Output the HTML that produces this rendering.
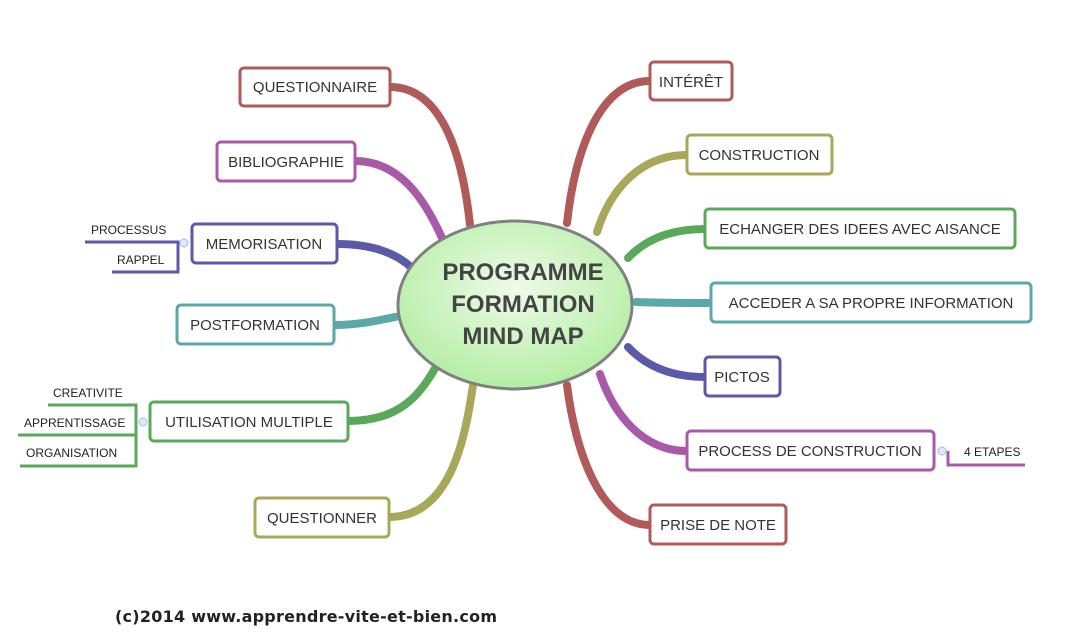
<!DOCTYPE html><html><head><meta charset="utf-8"><style>body{margin:0;background:#fff}svg{display:block}text{font-family:"Liberation Sans",sans-serif}</style></head><body>
<svg width="1072" height="644" viewBox="0 0 1072 644">
<defs><radialGradient id="g" cx="50%" cy="40%" r="60%"><stop offset="0" stop-color="#eefbe8"/><stop offset="1" stop-color="#b4eea4"/></radialGradient></defs>
<g fill="none" stroke-linecap="round">
<path d="M390,87 C440,87 462,150 470,225" stroke="#b05a5a" stroke-width="8"/>
<path d="M355,161 C400,161 425,200 442,238" stroke="#a85aa8" stroke-width="8"/>
<path d="M337,244 C370,244 395,252 412,268" stroke="#5a5aa8" stroke-width="8"/>
<path d="M334,325 C360,325 380,320 400,316" stroke="#5aa8a8" stroke-width="8"/>
<path d="M348,421 C400,421 420,395 437,365" stroke="#5aa85a" stroke-width="8"/>
<path d="M389,517 C450,517 465,440 473,385" stroke="#a8a85a" stroke-width="8"/>
<path d="M650,81 C600,81 575,150 567,223" stroke="#b05a5a" stroke-width="8"/>
<path d="M687,155 C640,155 610,190 597,232" stroke="#a8a85a" stroke-width="8"/>
<path d="M705,229 C670,229 645,240 628,258" stroke="#5aa85a" stroke-width="8"/>
<path d="M711,303 C690,303 660,303 636,302" stroke="#5aa8a8" stroke-width="8"/>
<path d="M705,377 C670,377 645,365 628,347" stroke="#5a5aa8" stroke-width="8"/>
<path d="M687,451 C640,451 612,410 600,374" stroke="#a85aa8" stroke-width="8"/>
<path d="M650,525 C600,525 575,450 567,385" stroke="#b05a5a" stroke-width="8"/>
</g>
<ellipse cx="515" cy="305" rx="117" ry="84" fill="url(#g)" stroke="#808080" stroke-width="3"/>
<g font-weight="bold" font-size="24" fill="#444" text-anchor="middle"><text x="523" y="280">PROGRAMME</text><text x="523" y="312">FORMATION</text><text x="523" y="344">MIND MAP</text></g>
<g fill="#fff" stroke-width="3">
<rect x="240" y="68" width="150" height="38" rx="4" stroke="#b05a5a"/>
<rect x="217" y="142" width="138" height="39" rx="4" stroke="#a85aa8"/>
<rect x="192" y="224" width="145" height="39" rx="4" stroke="#5a5aa8"/>
<rect x="177" y="305" width="157" height="39" rx="4" stroke="#5aa8a8"/>
<rect x="150" y="402" width="198" height="39" rx="4" stroke="#5aa85a"/>
<rect x="255" y="498" width="134" height="39" rx="4" stroke="#a8a85a"/>
<rect x="650" y="62" width="82" height="38" rx="4" stroke="#b05a5a"/>
<rect x="687" y="135" width="145" height="39" rx="4" stroke="#a8a85a"/>
<rect x="705" y="209" width="310" height="39" rx="4" stroke="#5aa85a"/>
<rect x="711" y="283" width="320" height="39" rx="4" stroke="#5aa8a8"/>
<rect x="705" y="357" width="75" height="39" rx="4" stroke="#5a5aa8"/>
<rect x="687" y="431" width="247" height="39" rx="4" stroke="#a85aa8"/>
<rect x="650" y="505" width="136" height="39" rx="4" stroke="#b05a5a"/>
</g>
<g font-size="15" fill="#333" text-anchor="middle">
<text x="315" y="92">QUESTIONNAIRE</text>
<text x="286" y="167">BIBLIOGRAPHIE</text>
<text x="264" y="249">MEMORISATION</text>
<text x="255" y="330">POSTFORMATION</text>
<text x="249" y="427">UTILISATION MULTIPLE</text>
<text x="322" y="523">QUESTIONNER</text>
<text x="691" y="87">INTÉRÊT</text>
<text x="759" y="160">CONSTRUCTION</text>
<text x="860" y="234">ECHANGER DES IDEES AVEC AISANCE</text>
<text x="871" y="308">ACCEDER A SA PROPRE INFORMATION</text>
<text x="742" y="382">PICTOS</text>
<text x="810" y="456">PROCESS DE CONSTRUCTION</text>
<text x="718" y="530">PRISE DE NOTE</text>
</g>
<g fill="none" stroke-width="3">
<path d="M85,242 H178 V272 H112" stroke="#5a5aa8"/>
<path d="M48,405 H136 V466 H20 M18,435 H136" stroke="#5aa85a"/>
<path d="M948,451 V465 H1025" stroke="#a85aa8"/>
</g>
<g fill="#dde8f8" stroke="#a8bce0"><circle cx="184" cy="243" r="4"/><circle cx="143" cy="422" r="4"/><circle cx="942" cy="451" r="4"/></g>
<g font-size="12" fill="#222">
<text x="91" y="234">PROCESSUS</text><text x="117" y="264">RAPPEL</text>
<text x="53" y="397">CREATIVITE</text><text x="24" y="427">APPRENTISSAGE</text><text x="26" y="457">ORGANISATION</text>
<text x="964" y="456">4 ETAPES</text>
</g>
<text x="115" y="622" font-size="16" font-weight="bold" fill="#222" style="font-family:'DejaVu Sans',sans-serif" textLength="382">(c)2014 www.apprendre-vite-et-bien.com</text>
</svg></body></html>
